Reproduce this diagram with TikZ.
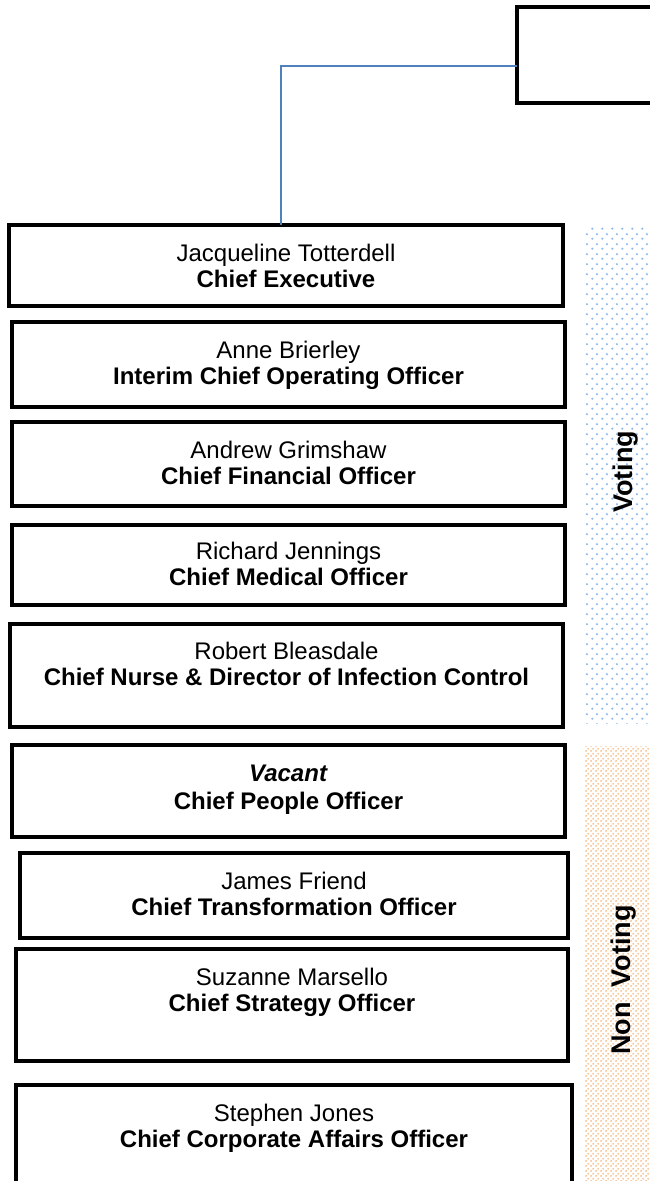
\documentclass[tikz,border=0pt]{standalone}
\usepackage{fontspec}
\setmainfont{Liberation Sans}
\usetikzlibrary{patterns.meta}
\definecolor{connblue}{HTML}{4F81BD}
\definecolor{vblue}{HTML}{8DB8EA}
\definecolor{norange}{HTML}{F6B47A}
\tikzdeclarepattern{name=vdots, type=uncolored,
  bounding box={(0pt,0pt) and (10pt,10pt)}, tile size={(10pt,10pt)},
  code={\fill (2.5pt,2.5pt) circle (1.3pt); \fill (7.5pt,7.5pt) circle (1.3pt);}}
\tikzdeclarepattern{name=odots, type=uncolored,
  bounding box={(0pt,0pt) and (5pt,5pt)}, tile size={(5pt,5pt)},
  code={\fill (1.25pt,1.25pt) circle (1.1pt); \fill (3.75pt,3.75pt) circle (1.1pt);}}
\begin{document}
\begin{tikzpicture}[x=1pt,y=-1pt,
  orgbox/.style={draw, line width=3.5pt, inner sep=0pt, outer sep=0pt, anchor=north west},
  txt/.style={align=center, anchor=base, inner sep=0pt, font=\fontsize{24}{26}\selectfont},
  bandlabel/.style={rotate=90, inner sep=0pt, font=\bfseries\fontsize{27}{30}\selectfont},
  connector/.style={draw=connblue, line width=2pt}]
\useasboundingbox (0,0) rectangle (650,1181);
\clip (0,0) rectangle (650,1181);
% side bands
\path[pattern={vdots}, pattern color=vblue] (585,227) rectangle (650,723);
\path[pattern={odots}, pattern color=norange] (585,746) rectangle (650,1181);
\node[bandlabel] (vl) at (626,472) {Voting};
\node[bandlabel] (nvl) at (624,980) {Non\hspace{0.55em}Voting};
% top box
\node[orgbox, line width=4pt, minimum width=190pt, minimum height=96pt] (top) at (517,7) {};
% boxes
\node[orgbox, minimum width=554pt, minimum height=81pt] (ce) at (9,225) {};
\node[orgbox, minimum width=553pt, minimum height=85pt] (coo) at (12,322) {};
\node[orgbox, minimum width=553pt, minimum height=84pt] (cfo) at (12,422) {};
\node[orgbox, minimum width=553pt, minimum height=80pt] (cmo) at (12,525) {};
\node[orgbox, minimum width=553pt, minimum height=103pt] (cn) at (10,624) {};
\node[orgbox, minimum width=553pt, minimum height=92pt] (cpo) at (12,745) {};
\node[orgbox, minimum width=548pt, minimum height=85pt] (cto) at (20,853) {};
\node[orgbox, minimum width=552pt, minimum height=112pt] (cso) at (16,949) {};
\node[orgbox, minimum width=556pt, minimum height=130pt] (cca) at (16,1085) {};
% texts (anchor base = baseline of the second line)
\node[txt] (ce-t) at ([yshift=-62pt]ce.north) {Jacqueline Totterdell\\\textbf{Chief Executive}};
\node[txt] (coo-t) at ([yshift=-62pt]coo.north) {Anne Brierley\\\textbf{Interim Chief Operating Officer}};
\node[txt] (cfo-t) at ([yshift=-62pt]cfo.north) {Andrew Grimshaw\\\textbf{Chief Financial Officer}};
\node[txt] (cmo-t) at ([yshift=-60pt]cmo.north) {Richard Jennings\\\textbf{Chief Medical Officer}};
\node[txt] (cn-t) at ([yshift=-61pt]cn.north) {Robert Bleasdale\\\textbf{Chief Nurse \& Director of Infection Control}};
\node[txt] (cpo-t) at ([yshift=-64pt]cpo.north) {\textbf{\textit{Vacant}}\\[2pt]\textbf{Chief People Officer}};
\node[txt] (cto-t) at ([yshift=-62pt]cto.north) {James Friend\\\textbf{Chief Transformation Officer}};
\node[txt] (cso-t) at ([yshift=-62pt]cso.north) {Suzanne Marsello\\\textbf{Chief Strategy Officer}};
\node[txt] (cca-t) at ([yshift=-62pt]cca.north) {Stephen Jones\\\textbf{Chief Corporate Affairs Officer}};
% connector
\draw[connector] ([yshift=-11pt]top.west) -| ([xshift=-5pt]ce.north);
\end{tikzpicture}
\end{document}
